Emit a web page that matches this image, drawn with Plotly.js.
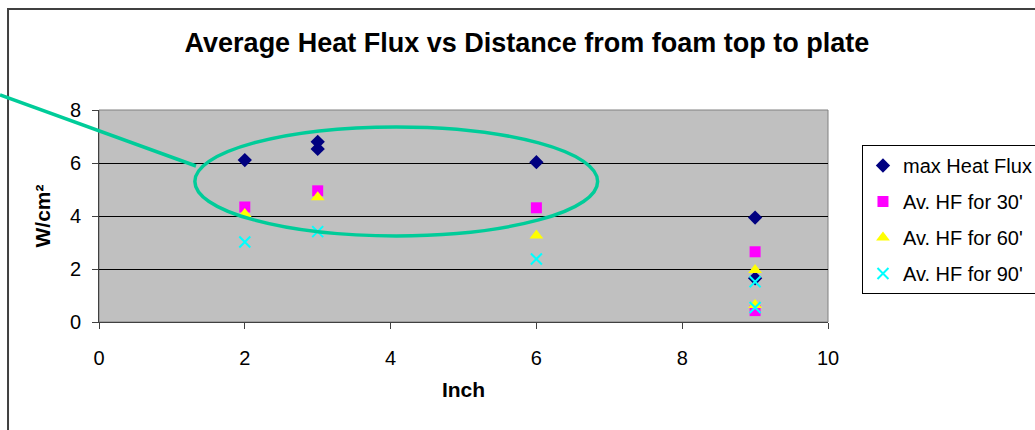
<!DOCTYPE html>
<html>
<head>
<meta charset="utf-8">
<script src="https://cdn.plot.ly/plotly-3.0.1.min.js"></script>
<style>html,body{margin:0;padding:0;background:#fff;}#chart{width:1035px;height:430px;}</style>
</head>
<body>
<div id="chart"></div>
<script>
// Data
const maxHF_x = [2, 3, 3, 6, 9, 9];
const maxHF_y = [6.11, 6.80, 6.53, 6.03, 3.94, 1.65];
const hf30_x = [2, 3, 6, 9, 9];
const hf30_y = [4.34, 4.95, 4.31, 2.65, 0.43];
const hf60_x = [2, 3, 6, 9, 9];
const hf60_y = [4.08, 4.71, 3.26, 1.96, 0.64];
const hf90_x = [2, 3, 6, 9, 9];
const hf90_y = [3.02, 3.41, 2.38, 1.52, 0.55];
const seriesNames = ["max Heat Flux", "Av. HF for 30'", "Av. HF for 60'", "Av. HF for 90'"];
const xTicks = [0, 2, 4, 6, 8, 10];
const yTicks = [0, 2, 4, 6, 8];

const FONT = "Liberation Sans, Arial, sans-serif";

const traces = [
  {x: maxHF_x, y: maxHF_y, name: seriesNames[0], legendgroup: "a", mode: "markers", type: "scatter",
   marker: {symbol: "diamond", size: 11, color: "#000080"}},
  {x: hf30_x, y: hf30_y, name: seriesNames[1], legendgroup: "b", mode: "markers", type: "scatter",
   marker: {symbol: "square", size: 11, color: "#FF00FF"}},
  {x: hf60_x, y: hf60_y, name: seriesNames[2], legendgroup: "c", mode: "markers", type: "scatter",
   marker: {symbol: "triangle-up", size: 12, color: "#FFFF00"}},
  {x: hf90_x, y: hf90_y, name: seriesNames[3], legendgroup: "d", mode: "markers", type: "scatter",
   marker: {symbol: "x-thin", size: 11, color: "#00FFFF", line: {color: "#00FFFF", width: 2}}}
];

const layout = {
  width: 1035, height: 430,
  margin: {l: 99, r: 207, t: 110, b: 108, pad: 0, autoexpand: false},
  paper_bgcolor: "#ffffff",
  plot_bgcolor: "#C0C0C0",
  font: {family: FONT, size: 20, color: "#000"},
  title: {text: "<b>Average Heat Flux vs Distance from foam top to plate</b>",
          font: {family: FONT, size: 27, color: "#000"},
          x: 0.587, xanchor: "center", xref: "paper", y: 0.9, yref: "container", yanchor: "middle"},
  xaxis: {range: [0, 10], tickvals: xTicks, ticktext: xTicks.map(String), showgrid: false, zeroline: false,
          showline: true, linecolor: "#404040", linewidth: 1, ticks: "outside", ticklen: 6, tickcolor: "#404040",
          ticklabelstandoff: 12, tickfont: {family: FONT, size: 20},
          title: {text: "<b>Inch</b>", font: {family: FONT, size: 21}, standoff: 14}},
  yaxis: {range: [0, 8], tickvals: yTicks, ticktext: yTicks.map(String), showgrid: true, gridcolor: "#000000", gridwidth: 1,
          zeroline: false, showline: true, linecolor: "#404040", linewidth: 1, ticks: "outside", ticklen: 6, tickcolor: "#404040",
          ticklabelstandoff: 7, tickfont: {family: FONT, size: 20},
          title: {text: "<b>W/cm²</b>", font: {family: FONT, size: 21}, standoff: 13}},
  showlegend: true,
  legend: {x: 1.0466, y: 0.835, xanchor: "left", yanchor: "top", bgcolor: "#ffffff", bordercolor: "#000000", borderwidth: 1,
           font: {family: FONT, size: 20}, tracegroupgap: 7, itemwidth: 30},
  shapes: [
    {type: "rect", xref: "paper", yref: "paper", x0: 0, x1: 1, y0: 0, y1: 1, line: {color: "#808080", width: 1}, layer: "below"},
    {type: "rect", xref: "paper", yref: "paper", x0: -0.1248, x1: 1.3, y0: -0.6, y1: 1.4764, line: {color: "#404040", width: 2}},
    {type: "line", xref: "paper", yref: "paper", x0: -0.1358, y0: 1.0708, x1: 0.1331, y1: 0.7358, line: {color: "#00CC99", width: 3.5}},
    {type: "circle", xref: "x", yref: "y", x0: 1.315, x1: 6.84, y0: 3.25, y1: 7.36, line: {color: "#00CC99", width: 3.5}}
  ]
};

Plotly.newPlot("chart", traces, layout, {displayModeBar: false, staticPlot: true});
</script>
</body>
</html>
